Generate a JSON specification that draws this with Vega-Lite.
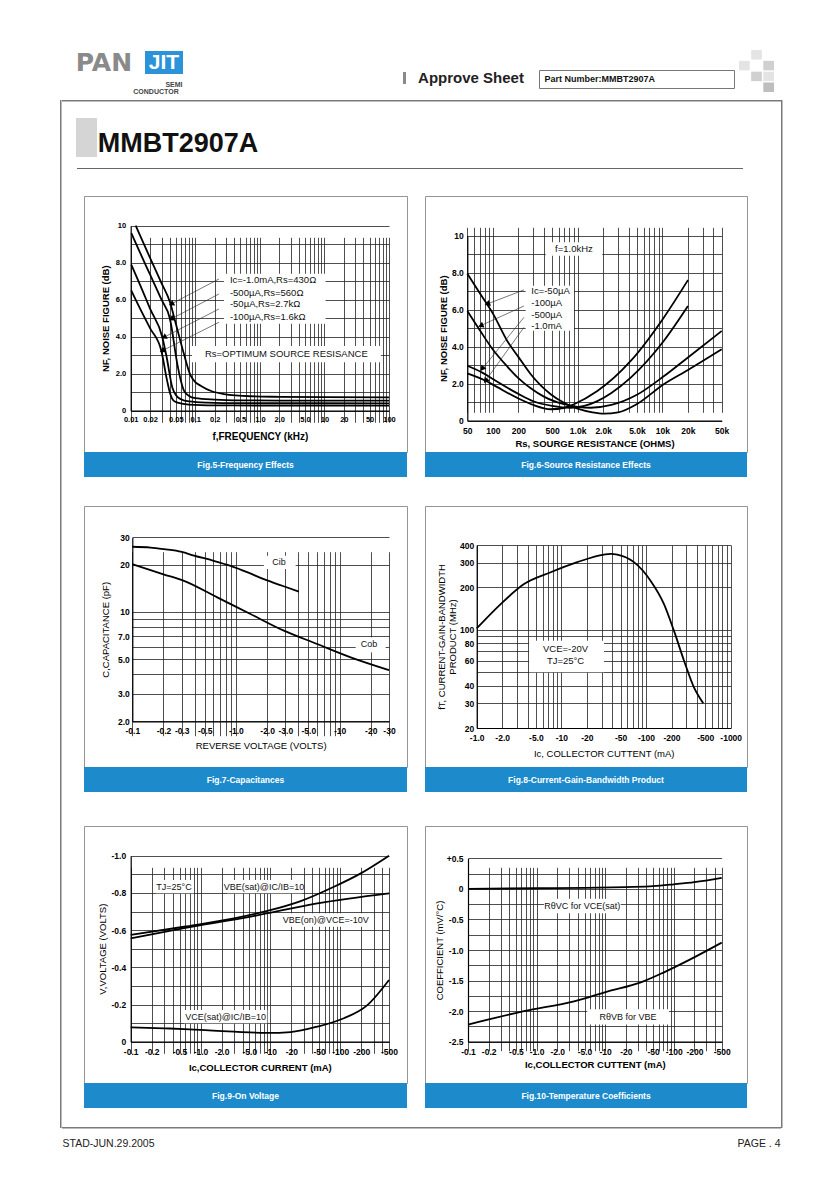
{
"$schema": "https://vega.github.io/schema/vega-lite/v6.json",
"background": "white",
"padding": 0,
"config": {
  "font": "Liberation Sans",
  "view": {"stroke": null},
  "concat": {"spacing": 0},
  "text": {"font": "Liberation Sans"},
  "title": {"font": "Liberation Sans"},
  "axis": {"ticks": false, "grid": true, "gridColor": "#222222", "gridWidth": 0.8, "domainColor": "#000000", "domainWidth": 1.2, "labelOverlap": false, "labelFlush": false, "labelFont": "Liberation Sans", "labelFontWeight": "bold", "labelColor": "#000000", "labelFontSize": 8.5, "titleFont": "Liberation Sans", "titleColor": "#000000", "titleFontSize": 9.5, "titleFontWeight": "normal"}
},
"vconcat": [
 {"hconcat": [
   {"width": 65, "height": 100, "data": {"values": []}, "mark": "point"},
   {"vconcat": [
     {"width": 1, "height": 50, "data": {"values": []}, "mark": "point"},
     {"bounds": "flush", "hconcat": [
       {"width": 78, "height": 23, "data": {"values": [{"t": "PAN"}]}, "mark": {"type": "text", "font": "DejaVu Sans", "fontSize": 25, "fontWeight": "bold", "color": "#8a8a8a"}, "encoding": {"text": {"field": "t"}}},
       {"width": 2, "height": 1, "data": {"values": []}, "mark": "point"},
       {"width": 38, "height": 23, "view": {"fill": "#2d93d8", "stroke": null}, "data": {"values": [{"t": "JIT"}]}, "mark": {"type": "text", "fontSize": 21, "fontWeight": "bold", "color": "white"}, "encoding": {"text": {"field": "t"}}}
     ]},
     {"width": 1, "height": 4, "data": {"values": []}, "mark": "point"},
     {"bounds": "flush", "hconcat": [
       {"width": 101, "height": 1, "data": {"values": []}, "mark": "point"},
       {"width": 16, "height": 7, "data": {"values": [{"t": "SEMI"}]}, "mark": {"type": "text", "fontSize": 7, "fontWeight": "bold", "color": "#444444"}, "encoding": {"text": {"field": "t"}}}
     ]},
     {"bounds": "flush", "hconcat": [
       {"width": 65, "height": 1, "data": {"values": []}, "mark": "point"},
       {"width": 52, "height": 8, "data": {"values": [{"t": "CONDUCTOR"}]}, "mark": {"type": "text", "fontSize": 7, "fontWeight": "bold", "color": "#444444"}, "encoding": {"text": {"field": "t"}}}
     ]}
   ]},
   {"width": 220, "height": 1, "data": {"values": []}, "mark": "point"},
   {"vconcat": [
     {"width": 1, "height": 71, "data": {"values": []}, "mark": "point"},
     {"bounds": "flush", "hconcat": [
       {"width": 3, "height": 12, "view": {"fill": "#8a8a8a", "stroke": null}, "data": {"values": []}, "mark": "point"},
       {"width": 9, "height": 1, "data": {"values": []}, "mark": "point"},
       {"width": 112, "height": 12, "data": {"values": [{"t": "Approve Sheet"}]}, "mark": {"type": "text", "fontSize": 15, "fontWeight": "bold", "color": "#222222"}, "encoding": {"text": {"field": "t"}}}
     ]}
   ]},
   {"width": 11, "height": 1, "data": {"values": []}, "mark": "point"},
   {"vconcat": [
     {"width": 1, "height": 69, "data": {"values": []}, "mark": "point"},
     {"width": 195, "height": 18, "view": {"stroke": "#777777", "strokeWidth": 1}, "data": {"values": [{"t": "Part Number:MMBT2907A"}]},
      "mark": {"type": "text", "align": "left", "dx": -92, "fontSize": 9, "fontWeight": "bold", "color": "#111111"}, "encoding": {"text": {"field": "t"}}}
   ]},
   {"width": 4, "height": 1, "data": {"values": []}, "mark": "point"},
   {"vconcat": [
     {"width": 1, "height": 50, "data": {"values": []}, "mark": "point"},
     {"width": 35, "height": 42,
      "data": {"values": [{"c": 1, "r": 0, "g": "a"}, {"c": 0, "r": 1, "g": "a"}, {"c": 2, "r": 1, "g": "b"}, {"c": 1, "r": 2, "g": "b"}, {"c": 2, "r": 2, "g": "a"}, {"c": 2, "r": 3, "g": "c"}]},
      "mark": {"type": "rect"},
      "encoding": {
        "x": {"field": "c", "type": "ordinal", "scale": {"domain": [0, 1, 2], "paddingInner": 0.12, "paddingOuter": 0}, "axis": null},
        "y": {"field": "r", "type": "ordinal", "scale": {"domain": [0, 1, 2, 3], "paddingInner": 0.12, "paddingOuter": 0}, "axis": null},
        "color": {"field": "g", "type": "nominal", "scale": {"domain": ["a", "b", "c"], "range": ["#e4e4e4", "#d0d0d0", "#bebebe"]}, "legend": null}
      }}
   ]}
 ]},
 {"hconcat": [
   {"width": 60, "height": 1, "data": {"values": []}, "mark": "point"},
   {"width": 1.5, "height": 1028, "view": {"fill": "#7a7a7a", "stroke": null}, "data": {"values": []}, "mark": "point"},
   {"vconcat": [
     {"width": 719, "height": 1.5, "view": {"fill": "#7a7a7a", "stroke": null}, "data": {"values": []}, "mark": "point"},
     {"vconcat": [
       {"width": 1, "height": 15.5, "data": {"values": []}, "mark": "point"},
       {"hconcat": [
         {"width": 13.5, "height": 1, "data": {"values": []}, "mark": "point"},
         {"width": 21, "height": 39, "view": {"fill": "#d5d5d5", "stroke": null}, "data": {"values": []}, "mark": "point"},
         {"bounds": "flush", "vconcat": [
           {"width": 1, "height": 13, "data": {"values": []}, "mark": "point"},
           {"width": 158, "height": 26, "data": {"values": [{"t": "MMBT2907A"}]}, "mark": {"type": "text", "fontSize": 27, "fontWeight": "bold", "color": "#111111"}, "encoding": {"text": {"field": "t"}}}
         ]}
       ]},
       {"width": 1, "height": 11, "data": {"values": []}, "mark": "point"},
       {"bounds": "flush", "hconcat": [
         {"width": 14.5, "height": 1, "data": {"values": []}, "mark": "point"},
         {"width": 666, "height": 1, "view": {"fill": "#666666", "stroke": null}, "data": {"values": []}, "mark": "point"}
       ]},
       {"width": 1, "height": 26, "data": {"values": []}, "mark": "point"}
     ]},
     {"hconcat": [
       {"width": 20.5, "height": 1, "data": {"values": []}, "mark": "point"},
       {"bounds": "flush", "vconcat": [
         {"width": 323, "height": 256, "view": {"stroke": "#959595", "strokeWidth": 1},
          "encoding": {
            "x": {"field": "f", "type": "quantitative", "scale": {"type": "log", "domain": [0.01, 100], "range": [46.7, 305], "nice": false},
                  "axis": {"orient": "bottom", "offset": -41.3, "values": [0.01,0.02,0.03,0.04,0.05,0.06,0.07,0.08,0.09,0.1,0.2,0.3,0.4,0.5,0.6,0.7,0.8,0.9,1,2,3,4,5,6,7,8,9,10,20,30,40,50,60,70,80,90,100],
                           "labelExpr": "(['0.01','0.02','0.05','0.1','0.2','0.5','1.0','2.0','5.0','10','20','50','100'])[indexof([0.01,0.02,0.05,0.1,0.2,0.5,1,2,5,10,20,50,100], datum.value)] || ''",
                           "labelFontSize": 7.5, "labelPadding": 5, "title": "f,FREQUENCY (kHz)", "titleFontWeight": "bold", "titleFontSize": 10, "titlePadding": 8}},
            "y": {"field": "nf", "type": "quantitative", "scale": {"domain": [0, 10], "range": [214.7, 29.7], "nice": false, "zero": false},
                  "axis": {"orient": "left", "offset": -46.7, "values": [0,1,2,3,4,5,6,7,8,9,10],
                           "labelExpr": "(['0','2.0','4.0','6.0','8.0','10'])[indexof([0,2,4,6,8,10], datum.value)] || ''",
                           "labelFontSize": 7.5, "labelPadding": 5, "title": "NF, NOISE FIGURE (dB)", "titleFontWeight": "bold", "titleFontSize": 9.5, "titlePadding": 5}}
          },
          "layer": [
            {"data": {"values": [{"f": 0.278, "f2": 10.4, "nf": 7.4, "nf2": 4.7}, {"f": 0.089, "f2": 75, "nf": 3.5, "nf2": 2.62}]},
             "mark": {"type": "rect", "fill": "white"}, "encoding": {"x2": {"field": "f2"}, "y2": {"field": "nf2"}}},
            {"data": {"values": [
              {"s": "A", "f": 0.01195, "nf": 10}, {"s": "A", "f": 0.02, "nf": 8.25}, {"s": "A", "f": 0.03, "nf": 6.9}, {"s": "A", "f": 0.0406, "nf": 5.86}, {"s": "A", "f": 0.05, "nf": 4.7}, {"s": "A", "f": 0.0668, "nf": 3.06}, {"s": "A", "f": 0.0849, "nf": 1.89}, {"s": "A", "f": 0.1, "nf": 1.55}, {"s": "A", "f": 0.121, "nf": 1.35}, {"s": "A", "f": 0.18, "nf": 1.05}, {"s": "A", "f": 0.278, "nf": 0.9}, {"s": "A", "f": 0.72, "nf": 0.78}, {"s": "A", "f": 2, "nf": 0.75}, {"s": "A", "f": 10, "nf": 0.73}, {"s": "A", "f": 100, "nf": 0.72},
              {"s": "B", "f": 0.0102, "nf": 9.6}, {"s": "B", "f": 0.015, "nf": 8.3}, {"s": "B", "f": 0.02, "nf": 7.35}, {"s": "B", "f": 0.03, "nf": 6.0}, {"s": "B", "f": 0.0406, "nf": 4.96}, {"s": "B", "f": 0.0527, "nf": 2.52}, {"s": "B", "f": 0.06, "nf": 1.6}, {"s": "B", "f": 0.0668, "nf": 1.08}, {"s": "B", "f": 0.08, "nf": 0.8}, {"s": "B", "f": 0.1, "nf": 0.68}, {"s": "B", "f": 0.2, "nf": 0.6}, {"s": "B", "f": 0.5, "nf": 0.56}, {"s": "B", "f": 2, "nf": 0.55}, {"s": "B", "f": 100, "nf": 0.54},
              {"s": "C", "f": 0.0102, "nf": 7.9}, {"s": "C", "f": 0.015, "nf": 6.55}, {"s": "C", "f": 0.02, "nf": 5.5}, {"s": "C", "f": 0.0309, "nf": 3.97}, {"s": "C", "f": 0.036, "nf": 2.9}, {"s": "C", "f": 0.0441, "nf": 1.26}, {"s": "C", "f": 0.05, "nf": 0.85}, {"s": "C", "f": 0.06, "nf": 0.62}, {"s": "C", "f": 0.08, "nf": 0.5}, {"s": "C", "f": 0.15, "nf": 0.44}, {"s": "C", "f": 0.5, "nf": 0.41}, {"s": "C", "f": 100, "nf": 0.4},
              {"s": "D", "f": 0.0102, "nf": 6.5}, {"s": "D", "f": 0.015, "nf": 5.3}, {"s": "D", "f": 0.02, "nf": 4.45}, {"s": "D", "f": 0.0298, "nf": 3.24}, {"s": "D", "f": 0.0365, "nf": 1.65}, {"s": "D", "f": 0.041, "nf": 0.9}, {"s": "D", "f": 0.046, "nf": 0.55}, {"s": "D", "f": 0.055, "nf": 0.42}, {"s": "D", "f": 0.08, "nf": 0.33}, {"s": "D", "f": 0.2, "nf": 0.29}, {"s": "D", "f": 1, "nf": 0.28}, {"s": "D", "f": 100, "nf": 0.27}
             ]},
             "mark": {"type": "line", "color": "black", "strokeWidth": 1.8, "interpolate": "monotone"}, "encoding": {"detail": {"field": "s"}}},
            {"data": {"values": [{"f": 0.233, "nf": 7.12, "f2": 0.0425, "nf2": 5.77}, {"f": 0.233, "nf": 6.31, "f2": 0.0425, "nf2": 4.96}, {"f": 0.233, "nf": 5.5, "f2": 0.0327, "nf2": 3.97}, {"f": 0.233, "nf": 4.78, "f2": 0.0308, "nf2": 3.24}]},
             "mark": {"type": "rule", "color": "#222222", "strokeWidth": 0.6}, "encoding": {"x2": {"field": "f2"}, "y2": {"field": "nf2"}}},
            {"data": {"values": [{"f": 0.0425, "nf": 5.77}, {"f": 0.0425, "nf": 4.96}, {"f": 0.0327, "nf": 3.97}, {"f": 0.0308, "nf": 3.24}]},
             "mark": {"type": "point", "shape": "triangle-right", "filled": true, "color": "black", "opacity": 1, "size": 40, "angle": 152}},
            {"data": {"values": [{"f": 0.344, "nf": 7.06, "t": "Ic=-1.0mA,Rs=430Ω"}, {"f": 0.344, "nf": 6.35, "t": "-500µA,Rs=560Ω"}, {"f": 0.344, "nf": 5.77, "t": "-50µA,Rs=2.7kΩ"}, {"f": 0.344, "nf": 5.08, "t": "-100µA,Rs=1.6kΩ"}]},
             "mark": {"type": "text", "align": "left", "fontSize": 9.5, "color": "#111111"}, "encoding": {"text": {"field": "t"}}},
            {"data": {"values": [{"f": 2.57, "nf": 3.06, "t": "Rs=OPTIMUM SOURCE RESISANCE"}]},
             "mark": {"type": "text", "align": "center", "fontSize": 9.5, "color": "#111111"}, "encoding": {"text": {"field": "t"}}}
          ]},
         {"width": 323, "height": 25, "view": {"fill": "#1d8acb", "stroke": null}, "data": {"values": [{"t": "Fig.5-Frequency Effects"}]}, "mark": {"type": "text", "color": "white", "fontWeight": "bold", "fontSize": 8.5}, "encoding": {"text": {"field": "t"}}}
       ]},
       {"width": 16, "height": 1, "data": {"values": []}, "mark": "point"},
       {"bounds": "flush", "vconcat": [
         {"width": 322, "height": 256, "view": {"stroke": "#959595", "strokeWidth": 1},
          "encoding": {
            "x": {"field": "rs", "type": "quantitative", "scale": {"type": "log", "domain": [50, 50000], "range": [42.3, 296.7], "nice": false},
                  "axis": {"orient": "bottom", "offset": -31.3, "values": [50,60,70,80,90,100,200,300,400,500,600,700,800,900,1000,2000,3000,4000,5000,6000,7000,8000,9000,10000,20000,30000,40000,50000],
                           "labelExpr": "(['50','100','200','500','1.0k','2.0k','5.0k','10k','20k','50k'])[indexof([50,100,200,500,1000,2000,5000,10000,20000,50000], datum.value)] || ''",
                           "labelFontSize": 8.5, "labelPadding": 6, "title": "Rs, SOURGE RESISTANCE (OHMS)", "titleFontWeight": "bold", "titleFontSize": 9.5, "titlePadding": 3}},
            "y": {"field": "nf", "type": "quantitative", "scale": {"domain": [0, 10], "range": [224.7, 39.7], "nice": false, "zero": false},
                  "axis": {"orient": "left", "offset": -42.3, "values": [0,1,2,3,4,5,6,7,8,9,10],
                           "labelExpr": "(['0','2.0','4.0','6.0','8.0','10'])[indexof([0,2,4,6,8,10], datum.value)] || ''",
                           "labelFontSize": 8.5, "labelPadding": 4, "title": "NF, NOISE FIGURE (dB)", "titleFontWeight": "bold", "titleFontSize": 9.5, "titlePadding": 3}}
          },
          "layer": [
            {"data": {"values": [{"rs": 420, "rs2": 1954, "nf": 9.64, "nf2": 8.92}, {"rs": 244, "rs2": 906, "nf": 7.3, "nf2": 4.86}]},
             "mark": {"type": "rect", "fill": "white"}, "encoding": {"x2": {"field": "rs2"}, "y2": {"field": "nf2"}}},
            {"data": {"values": [
              {"s": "a", "rs": 50, "nf": 7.95}, {"s": "a", "rs": 70, "nf": 6.9}, {"s": "a", "rs": 100, "nf": 5.8}, {"s": "a", "rs": 148, "nf": 4.31}, {"s": "a", "rs": 200, "nf": 3.45}, {"s": "a", "rs": 280, "nf": 2.51}, {"s": "a", "rs": 481, "nf": 1.43}, {"s": "a", "rs": 690, "nf": 0.97}, {"s": "a", "rs": 1000, "nf": 0.65}, {"s": "a", "rs": 1500, "nf": 0.45}, {"s": "a", "rs": 2046, "nf": 0.38}, {"s": "a", "rs": 3000, "nf": 0.45}, {"s": "a", "rs": 5000, "nf": 0.9}, {"s": "a", "rs": 10360, "nf": 1.97}, {"s": "a", "rs": 20000, "nf": 2.74}, {"s": "a", "rs": 50000, "nf": 3.86},
              {"s": "b", "rs": 50, "nf": 5.93}, {"s": "b", "rs": 70, "nf": 4.9}, {"s": "b", "rs": 100, "nf": 3.85}, {"s": "b", "rs": 150, "nf": 2.9}, {"s": "b", "rs": 200, "nf": 2.3}, {"s": "b", "rs": 280, "nf": 1.75}, {"s": "b", "rs": 400, "nf": 1.3}, {"s": "b", "rs": 690, "nf": 0.89}, {"s": "b", "rs": 1000, "nf": 0.75}, {"s": "b", "rs": 1430, "nf": 0.7}, {"s": "b", "rs": 2500, "nf": 0.85}, {"s": "b", "rs": 5000, "nf": 1.4}, {"s": "b", "rs": 10360, "nf": 2.4}, {"s": "b", "rs": 20000, "nf": 3.42}, {"s": "b", "rs": 50000, "nf": 4.85},
              {"s": "c", "rs": 50, "nf": 2.97}, {"s": "c", "rs": 75, "nf": 2.6}, {"s": "c", "rs": 100, "nf": 2.25}, {"s": "c", "rs": 200, "nf": 1.45}, {"s": "c", "rs": 300, "nf": 1.05}, {"s": "c", "rs": 500, "nf": 0.8}, {"s": "c", "rs": 828, "nf": 0.7}, {"s": "c", "rs": 1200, "nf": 0.8}, {"s": "c", "rs": 1707, "nf": 1.06}, {"s": "c", "rs": 2500, "nf": 1.5}, {"s": "c", "rs": 4226, "nf": 2.33}, {"s": "c", "rs": 10360, "nf": 4.31}, {"s": "c", "rs": 20000, "nf": 6.2},
              {"s": "d", "rs": 50, "nf": 2.56}, {"s": "d", "rs": 82, "nf": 2.16}, {"s": "d", "rs": 100, "nf": 1.95}, {"s": "d", "rs": 200, "nf": 1.2}, {"s": "d", "rs": 300, "nf": 0.85}, {"s": "d", "rs": 481, "nf": 0.62}, {"s": "d", "rs": 700, "nf": 0.7}, {"s": "d", "rs": 906, "nf": 0.89}, {"s": "d", "rs": 1707, "nf": 1.6}, {"s": "d", "rs": 4226, "nf": 3.23}, {"s": "d", "rs": 10360, "nf": 5.57}, {"s": "d", "rs": 20000, "nf": 7.6}
             ]},
             "mark": {"type": "line", "color": "black", "strokeWidth": 1.8, "interpolate": "monotone"}, "encoding": {"detail": {"field": "s"}}},
            {"data": {"values": [{"rs": 233, "nf": 7.07, "rs2": 86, "nf2": 6.31}, {"rs": 233, "nf": 6.2, "rs2": 72, "nf2": 5.14}, {"rs": 233, "nf": 5.59, "rs2": 75, "nf2": 2.8}, {"rs": 233, "nf": 5.05, "rs2": 82, "nf2": 2.16}]},
             "mark": {"type": "rule", "color": "#222222", "strokeWidth": 0.6}, "encoding": {"x2": {"field": "rs2"}, "y2": {"field": "nf2"}}},
            {"data": {"values": [{"rs": 86, "nf": 6.31}, {"rs": 72, "nf": 5.14}]},
             "mark": {"type": "point", "shape": "triangle-right", "filled": true, "color": "black", "opacity": 1, "size": 40, "angle": 157}},
            {"data": {"values": [{"rs": 75, "nf": 2.8}, {"rs": 82, "nf": 2.16}]},
             "mark": {"type": "point", "shape": "triangle-right", "filled": true, "color": "black", "opacity": 1, "size": 40, "angle": 127}},
            {"data": {"values": [{"rs": 284, "nf": 7.0, "t": "Ic=-50µA"}, {"rs": 284, "nf": 6.36, "t": "-100µA"}, {"rs": 284, "nf": 5.73, "t": "-500µA"}, {"rs": 284, "nf": 5.1, "t": "-1.0mA"}]},
             "mark": {"type": "text", "align": "left", "fontSize": 9.5, "color": "#111111"}, "encoding": {"text": {"field": "t"}}},
            {"data": {"values": [{"rs": 906, "nf": 9.28, "t": "f=1.0kHz"}]},
             "mark": {"type": "text", "align": "center", "fontSize": 9.5, "color": "#111111"}, "encoding": {"text": {"field": "t"}}}
          ]},
         {"width": 322, "height": 25, "view": {"fill": "#1d8acb", "stroke": null}, "data": {"values": [{"t": "Fig.6-Source Resistance Effects"}]}, "mark": {"type": "text", "color": "white", "fontWeight": "bold", "fontSize": 8.5}, "encoding": {"text": {"field": "t"}}}
       ]}
     ]},
     {"width": 1, "height": 28, "data": {"values": []}, "mark": "point"},
     {"hconcat": [
       {"width": 20.5, "height": 1, "data": {"values": []}, "mark": "point"},
       {"bounds": "flush", "vconcat": [
         {"width": 323, "height": 261, "view": {"stroke": "#959595", "strokeWidth": 1},
          "encoding": {
            "x": {"field": "v", "type": "quantitative", "scale": {"type": "log", "domain": [0.1, 30], "range": [48.3, 305], "nice": false},
                  "axis": {"orient": "bottom", "offset": -45.7, "values": [0.1,0.2,0.3,0.4,0.5,0.6,0.7,0.8,0.9,1,2,3,4,5,6,7,8,9,10,20,30],
                           "labelExpr": "(['-0.1','-0.2','-0.3','-0.5','-1.0','-2.0','-3.0','-5.0','-10','-20','-30'])[indexof([0.1,0.2,0.3,0.5,1,2,3,5,10,20,30], datum.value)] || ''",
                           "labelFontSize": 8.5, "labelPadding": 5, "title": "REVERSE VOLTAGE (VOLTS)", "titleFontSize": 9.5, "titlePadding": 6}},
            "y": {"field": "c", "type": "quantitative", "scale": {"type": "log", "domain": [2, 30], "range": [215.3, 31.3], "nice": false},
                  "axis": {"orient": "left", "offset": -48.3, "values": [2,3,4,5,6,7,8,9,10,20,30],
                           "labelExpr": "(['2.0','3.0','5.0','7.0','10','20','30'])[indexof([2,3,5,7,10,20,30], datum.value)] || ''",
                           "labelFontSize": 8.5, "labelPadding": 3, "title": "C,CAPACITANCE (pF)", "titleFontSize": 9.5, "titlePadding": 7}}
          },
          "layer": [
            {"data": {"values": [{"v": 1.86, "v2": 3.77, "c": 22.9, "c2": 18.8}, {"v": 14.3, "v2": 27.8, "c": 6.88, "c2": 5.52}]},
             "mark": {"type": "rect", "fill": "white"}, "encoding": {"x2": {"field": "v2"}, "y2": {"field": "c2"}}},
            {"data": {"values": [
              {"s": "Cib", "v": 0.1, "c": 26.1}, {"s": "Cib", "v": 0.15, "c": 25.8}, {"s": "Cib", "v": 0.202, "c": 25.2}, {"s": "Cib", "v": 0.3, "c": 24.2}, {"s": "Cib", "v": 0.394, "c": 22.9}, {"s": "Cib", "v": 0.6, "c": 21.3}, {"s": "Cib", "v": 0.889, "c": 19.7}, {"s": "Cib", "v": 1.3, "c": 17.9}, {"s": "Cib", "v": 1.86, "c": 16.2}, {"s": "Cib", "v": 2.8, "c": 14.7}, {"s": "Cib", "v": 4.05, "c": 13.5},
              {"s": "Cob", "v": 0.1, "c": 20.2}, {"s": "Cob", "v": 0.2, "c": 17.4}, {"s": "Cob", "v": 0.315, "c": 15.8}, {"s": "Cob", "v": 0.66, "c": 12.4}, {"s": "Cob", "v": 1.38, "c": 9.7}, {"s": "Cob", "v": 2.9, "c": 7.59}, {"s": "Cob", "v": 6.08, "c": 6.24}, {"s": "Cob", "v": 12.8, "c": 5.13}, {"s": "Cob", "v": 30, "c": 4.25}
             ]},
             "mark": {"type": "line", "color": "black", "strokeWidth": 1.8, "interpolate": "monotone"}, "encoding": {"detail": {"field": "s"}}},
            {"data": {"values": [{"v": 2.6, "c": 21.0, "t": "Cib"}, {"v": 19.2, "c": 6.24, "t": "Cob"}]},
             "mark": {"type": "text", "align": "center", "fontSize": 9, "color": "#111111"}, "encoding": {"text": {"field": "t"}}}
          ]},
         {"width": 323, "height": 25, "view": {"fill": "#1d8acb", "stroke": null}, "data": {"values": [{"t": "Fig.7-Capacitances"}]}, "mark": {"type": "text", "color": "white", "fontWeight": "bold", "fontSize": 8.5}, "encoding": {"text": {"field": "t"}}}
       ]},
       {"width": 16, "height": 1, "data": {"values": []}, "mark": "point"},
       {"bounds": "flush", "vconcat": [
         {"width": 322, "height": 261, "view": {"stroke": "#959595", "strokeWidth": 1},
          "encoding": {
            "x": {"field": "ic", "type": "quantitative", "scale": {"type": "log", "domain": [1, 1000], "range": [51.7, 305.7], "nice": false},
                  "axis": {"orient": "bottom", "offset": -39, "values": [1,2,3,4,5,6,7,8,9,10,20,30,40,50,60,70,80,90,100,200,300,400,500,600,700,800,900,1000],
                           "labelExpr": "(['-1.0','-2.0','-5.0','-10','-20','-50','-100','-200','-500','-1000'])[indexof([1,2,5,10,20,50,100,200,500,1000], datum.value)] || ''",
                           "labelFontSize": 8.5, "labelPadding": 5, "title": "Ic, COLLECTOR CUTTENT (mA)", "titleFontSize": 9.5, "titlePadding": 7}},
            "y": {"field": "ft", "type": "quantitative", "scale": {"type": "log", "domain": [20, 400], "range": [222, 39], "nice": false},
                  "axis": {"orient": "left", "offset": -51.7, "values": [20,30,40,50,60,70,80,90,100,200,300,400],
                           "labelExpr": "(['20','30','40','60','80','100','200','300','400'])[indexof([20,30,40,60,80,100,200,300,400], datum.value)] || ''",
                           "labelFontSize": 8.5, "labelPadding": 3, "title": ["fT, CURRENT-GAIN-BANDWIDTH", "PRODUCT (MHz)"], "titleFontSize": 9.5, "titlePadding": 2}}
          },
          "layer": [
            {"data": {"values": [{"ic": 4.15, "ic2": 31.9, "ft": 83.6, "ft2": 49.8}]},
             "mark": {"type": "rect", "fill": "white"}, "encoding": {"x2": {"field": "ic2"}, "y2": {"field": "ft2"}}},
            {"data": {"values": [
              {"ic": 1, "ft": 102}, {"ic": 1.92, "ft": 152}, {"ic": 3.62, "ft": 211}, {"ic": 7.48, "ft": 256}, {"ic": 15.4, "ft": 302}, {"ic": 31.9, "ft": 342}, {"ic": 38, "ft": 346}, {"ic": 45.8, "ft": 342}, {"ic": 72, "ft": 302}, {"ic": 113, "ft": 223}, {"ic": 163, "ft": 152}, {"ic": 214, "ft": 98}, {"ic": 281, "ft": 60.2}, {"ic": 368, "ft": 38.9}, {"ic": 474, "ft": 30}
             ]},
             "mark": {"type": "line", "color": "black", "strokeWidth": 1.8, "interpolate": "monotone"}},
            {"data": {"values": [{"ic": 11.2, "ft": 73, "t": "VCE=-20V"}, {"ic": 11.2, "ft": 60.2, "t": "TJ=25°C"}]},
             "mark": {"type": "text", "align": "center", "fontSize": 9.5, "color": "#111111"}, "encoding": {"text": {"field": "t"}}}
          ]},
         {"width": 322, "height": 25, "view": {"fill": "#1d8acb", "stroke": null}, "data": {"values": [{"t": "Fig.8-Current-Gain-Bandwidth Product"}]}, "mark": {"type": "text", "color": "white", "fontWeight": "bold", "fontSize": 8.5}, "encoding": {"text": {"field": "t"}}}
       ]}
     ]},
     {"width": 1, "height": 33, "data": {"values": []}, "mark": "point"},
     {"hconcat": [
       {"width": 20.5, "height": 1, "data": {"values": []}, "mark": "point"},
       {"bounds": "flush", "vconcat": [
         {"width": 323, "height": 257, "view": {"stroke": "#959595", "strokeWidth": 1},
          "encoding": {
            "x": {"field": "ic", "type": "quantitative", "scale": {"type": "log", "domain": [0.1, 500], "range": [46.7, 305], "nice": false},
                  "axis": {"orient": "bottom", "offset": -41.3, "values": [0.1,0.2,0.3,0.4,0.5,0.6,0.7,0.8,0.9,1,2,3,4,5,6,7,8,9,10,20,30,40,50,60,70,80,90,100,200,300,400,500],
                           "labelExpr": "(['-0.1','-0.2','-0.5','-1.0','-2.0','-5.0','-10','-20','-50','-100','-200','-500'])[indexof([0.1,0.2,0.5,1,2,5,10,20,50,100,200,500], datum.value)] || ''",
                           "labelFontSize": 8.5, "labelPadding": 6, "title": "Ic,COLLECTOR CURRENT (mA)", "titleFontWeight": "bold", "titleFontSize": 9.5, "titlePadding": 6}},
            "y": {"field": "v", "type": "quantitative", "scale": {"domain": [0, -1], "range": [215.7, 29.7], "nice": false, "zero": false},
                  "axis": {"orient": "left", "offset": -46.7, "values": [0,-0.1,-0.2,-0.3,-0.4,-0.5,-0.6,-0.7,-0.8,-0.9,-1],
                           "labelExpr": "(['0','-0.2','-0.4','-0.6','-0.8','-1.0'])[indexof([0,-0.2,-0.4,-0.6,-0.8,-1], datum.value)] || ''",
                           "labelFontSize": 8.5, "labelPadding": 5, "title": "V,VOLTAGE (VOLTS)", "titleFontSize": 9.5, "titlePadding": 4}}
          },
          "layer": [
            {"data": {"values": [{"ic": 0.228, "ic2": 0.806, "v": -0.798, "v2": -0.869}, {"ic": 2.42, "ic2": 28.7, "v": -0.798, "v2": -0.869}, {"ic": 16.6, "ic2": 245, "v": -0.618, "v2": -0.69}, {"ic": 0.58, "ic2": 9.05, "v": -0.099, "v2": -0.17}]},
             "mark": {"type": "rect", "fill": "white"}, "encoding": {"x2": {"field": "ic2"}, "y2": {"field": "v2"}}},
            {"data": {"values": [
              {"s": "sat", "ic": 0.1, "v": -0.574}, {"s": "sat", "ic": 0.58, "v": -0.618}, {"s": "sat", "ic": 3.01, "v": -0.663}, {"s": "sat", "ic": 9.04, "v": -0.703}, {"s": "sat", "ic": 27.2, "v": -0.756}, {"s": "sat", "ic": 81.5, "v": -0.833}, {"s": "sat", "ic": 197, "v": -0.905}, {"s": "sat", "ic": 500, "v": -1.0},
              {"s": "on", "ic": 0.1, "v": -0.556}, {"s": "on", "ic": 0.58, "v": -0.61}, {"s": "on", "ic": 5.23, "v": -0.672}, {"s": "on", "ic": 47, "v": -0.744}, {"s": "on", "ic": 500, "v": -0.798},
              {"s": "ce", "ic": 0.1, "v": -0.077}, {"s": "ce", "ic": 0.3, "v": -0.072}, {"s": "ce", "ic": 0.58, "v": -0.068}, {"s": "ce", "ic": 1.5, "v": -0.06}, {"s": "ce", "ic": 3.01, "v": -0.054}, {"s": "ce", "ic": 9.04, "v": -0.047}, {"s": "ce", "ic": 19.5, "v": -0.052}, {"s": "ce", "ic": 47, "v": -0.081}, {"s": "ce", "ic": 113, "v": -0.126}, {"s": "ce", "ic": 245, "v": -0.197}, {"s": "ce", "ic": 500, "v": -0.332}
             ]},
             "mark": {"type": "line", "color": "black", "strokeWidth": 1.8, "interpolate": "monotone"}, "encoding": {"detail": {"field": "s"}}},
            {"data": {"values": [{"ic": 0.417, "v": -0.833, "t": "TJ=25°C"}, {"ic": 8.1, "v": -0.833, "t": "VBE(sat)@IC/IB=10"}, {"ic": 62, "v": -0.654, "t": "VBE(on)@VCE=-10V"}, {"ic": 2.29, "v": -0.134, "t": "VCE(sat)@IC/IB=10"}]},
             "mark": {"type": "text", "align": "center", "fontSize": 9, "color": "#111111"}, "encoding": {"text": {"field": "t"}}}
          ]},
         {"width": 323, "height": 25, "view": {"fill": "#1d8acb", "stroke": null}, "data": {"values": [{"t": "Fig.9-On Voltage"}]}, "mark": {"type": "text", "color": "white", "fontWeight": "bold", "fontSize": 8.5}, "encoding": {"text": {"field": "t"}}}
       ]},
       {"width": 16, "height": 1, "data": {"values": []}, "mark": "point"},
       {"bounds": "flush", "vconcat": [
         {"width": 322, "height": 257, "view": {"stroke": "#959595", "strokeWidth": 1},
          "encoding": {
            "x": {"field": "ic", "type": "quantitative", "scale": {"type": "log", "domain": [0.1, 500], "range": [43, 296.7], "nice": false},
                  "axis": {"orient": "bottom", "offset": -41.3, "values": [0.1,0.2,0.3,0.4,0.5,0.6,0.7,0.8,0.9,1,2,3,4,5,6,7,8,9,10,20,30,40,50,60,70,80,90,100,200,300,400,500],
                           "labelExpr": "(['-0.1','-0.2','-0.5','-1.0','-2.0','-5.0','-10','-20','-50','-100','-200','-500'])[indexof([0.1,0.2,0.5,1,2,5,10,20,50,100,200,500], datum.value)] || ''",
                           "labelFontSize": 8.5, "labelPadding": 6, "title": "Ic,COLLECTOR CUTTENT (mA)", "titleFontWeight": "bold", "titleFontSize": 9.5, "titlePadding": 3}},
            "y": {"field": "k", "type": "quantitative", "scale": {"domain": [-2.5, 0.5], "range": [215.7, 32.3], "nice": false, "zero": false},
                  "axis": {"orient": "left", "offset": -43, "values": [-2.5,-2.25,-2,-1.75,-1.5,-1.25,-1,-0.75,-0.5,-0.25,0,0.25,0.5],
                           "labelExpr": "(['-2.5','-2.0','-1.5','-1.0','-0.5','0','+0.5'])[indexof([-2.5,-2,-1.5,-1,-0.5,0,0.5], datum.value)] || ''",
                           "labelFontSize": 8.5, "labelPadding": 5, "title": "COEFFICIENT (mV/°C)", "titleFontSize": 9.5, "titlePadding": 2}}
          },
          "layer": [
            {"data": {"values": [{"ic": 1.28, "ic2": 16.8, "k": -0.16, "k2": -0.4}, {"ic": 5.48, "ic2": 85, "k": -1.97, "k2": -2.22}]},
             "mark": {"type": "rect", "fill": "white"}, "encoding": {"x2": {"field": "ic2"}, "y2": {"field": "k2"}}},
            {"data": {"values": [
              {"s": "vc", "ic": 0.1, "k": 0.0}, {"s": "vc", "ic": 1, "k": 0.01}, {"s": "vc", "ic": 5, "k": 0.015}, {"s": "vc", "ic": 20, "k": 0.03}, {"s": "vc", "ic": 50, "k": 0.045}, {"s": "vc", "ic": 100, "k": 0.075}, {"s": "vc", "ic": 200, "k": 0.11}, {"s": "vc", "ic": 500, "k": 0.18},
              {"s": "vb", "ic": 0.1, "k": -2.22}, {"s": "vb", "ic": 0.655, "k": -2.0}, {"s": "vb", "ic": 3.51, "k": -1.84}, {"s": "vb", "ic": 10.7, "k": -1.68}, {"s": "vb", "ic": 33, "k": -1.53}, {"s": "vb", "ic": 72, "k": -1.365}, {"s": "vb", "ic": 177, "k": -1.15}, {"s": "vb", "ic": 500, "k": -0.88}
             ]},
             "mark": {"type": "line", "color": "black", "strokeWidth": 1.8, "interpolate": "monotone"}, "encoding": {"detail": {"field": "s"}}},
            {"data": {"values": [{"ic": 4.64, "k": -0.28, "t": "RθVC for VCE(sat)"}, {"ic": 21.6, "k": -2.095, "t": "RθVB for VBE"}]},
             "mark": {"type": "text", "align": "center", "fontSize": 9, "color": "#111111"}, "encoding": {"text": {"field": "t"}}}
          ]},
         {"width": 322, "height": 25, "view": {"fill": "#1d8acb", "stroke": null}, "data": {"values": [{"t": "Fig.10-Temperature Coefficients"}]}, "mark": {"type": "text", "color": "white", "fontWeight": "bold", "fontSize": 8.5}, "encoding": {"text": {"field": "t"}}}
       ]}
     ]},
     {"width": 1, "height": 19, "data": {"values": []}, "mark": "point"},
     {"width": 719, "height": 1.5, "view": {"fill": "#7a7a7a", "stroke": null}, "data": {"values": []}, "mark": "point"}
   ]},
   {"width": 1.5, "height": 1028, "view": {"fill": "#7a7a7a", "stroke": null}, "data": {"values": []}, "mark": "point"}
 ]},
 {"vconcat": [
   {"width": 1, "height": 10, "data": {"values": []}, "mark": "point"},
   {"bounds": "flush", "hconcat": [
     {"width": 62, "height": 1, "data": {"values": []}, "mark": "point"},
     {"width": 1, "height": 10, "data": {"values": [{"t": "STAD-JUN.29.2005"}]}, "mark": {"type": "text", "align": "left", "fontSize": 10.5, "color": "#222222"}, "encoding": {"text": {"field": "t"}}},
     {"width": 717, "height": 1, "data": {"values": []}, "mark": "point"},
     {"width": 1, "height": 10, "data": {"values": [{"t": "PAGE . 4"}]}, "mark": {"type": "text", "align": "right", "fontSize": 10.5, "color": "#222222"}, "encoding": {"text": {"field": "t"}}}
   ]},
   {"width": 1, "height": 30, "data": {"values": []}, "mark": "point"}
 ]}
]
}
